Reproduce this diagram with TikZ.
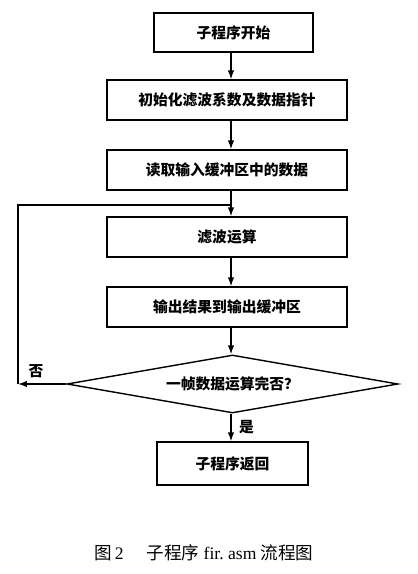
\documentclass[tikz,border=0pt]{standalone}
\usepackage{fontspec}
\usepackage{tikz}
\usetikzlibrary{shapes.geometric, arrows.meta, positioning, calc}
\setmainfont{Liberation Serif}
\newfontfamily\cjk{Noto Sans CJK SC}
\tikzset{
	process/.style ={rectangle, draw=black, line width=1pt, minimum height=1cm, align=center, font=\cjk\bfseries\fontsize{10.5}{12}\selectfont},
	decision/.style={diamond, draw=black, line width=1pt, aspect=5.7, minimum width=8.275cm, minimum height=1.45cm, inner sep=0pt, font=\cjk\bfseries\fontsize{10.5}{12}\selectfont},
	flowarrow/.style={-{Latex[length=2.2mm, width=1.6mm]}, line width=1pt},
	lbl/.style     ={font=\cjk\bfseries\fontsize{10.5}{12}\selectfont},
}
\begin{document}
\begin{tikzpicture}[x=0.025cm, y=0.025cm]
	\useasboundingbox (0,0) rectangle (417,574);
	% boxes
	\node[process, minimum width=3.975cm, minimum height=0.975cm] (start) at (233.5,541.5) {子程序开始};
	\node[process, minimum width=6cm] (init) at (227,474) {初始化滤波系数及数据指针};
	\node[process, minimum width=6cm] (read) at (227,404) {读取输入缓冲区中的数据};
	\node[process, minimum width=6cm] (filt) at (227,337) {滤波运算};
	\node[process, minimum width=6cm] (out) at (227,267) {输出结果到输出缓冲区};
	\node[decision] (dec) at (232.5,190) {一帧数据运算完否？};
	\node[process, minimum width=3.775cm, minimum height=1.075cm] (ret) at (232.5,110.5) {子程序返回};
	% loop points
	\coordinate (join) at (231,369);
	\coordinate (noend) at (18,190);
	% connectors
	\draw[flowarrow] (start.south -| join) -- (init.north -| join);
	\draw[flowarrow] (init.south -| join) -- (read.north -| join);
	\draw[flowarrow] (read.south -| join) -- (filt.north -| join);
	\draw[flowarrow] (filt.south -| join) -- (out.north -| join);
	\draw[flowarrow] (out.south -| join) -- (dec.north -| join);
	\draw[flowarrow] (dec.south -| join) -- (ret.north -| join) node[lbl, midway, right=2pt] {是};
	\draw[flowarrow] (dec.west) -- (noend);
	\draw[line width=1pt] (noend) -- (noend |- join) -- (join);
	\node[lbl, above right=1pt and 4pt] (nolbl) at (noend) {否};
	% caption
	\node[font=\fontsize{12.5}{14}\selectfont] (cap) at (204,21) {{\cjk 图}\,2\hspace{1.3em}{\cjk 子程序} fir.\ asm {\cjk 流程图}};
\end{tikzpicture}
\end{document}
